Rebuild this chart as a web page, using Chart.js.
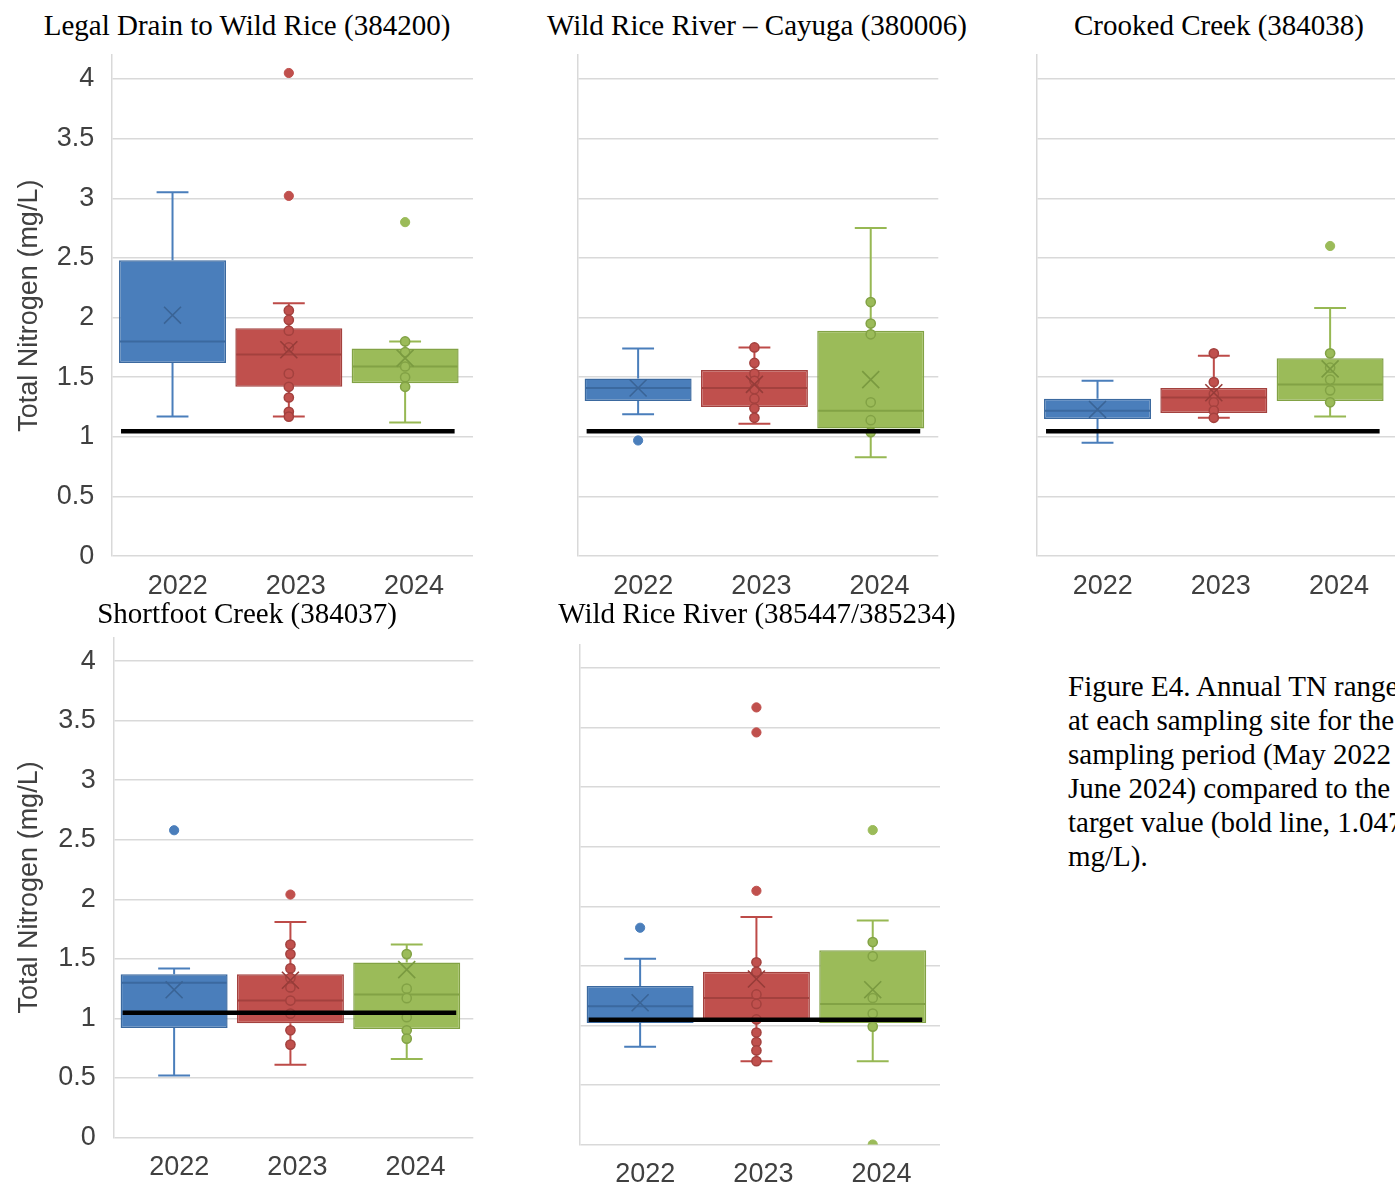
<!DOCTYPE html>
<html>
<head>
<meta charset="utf-8">
<title>Total Nitrogen by site and year</title>
<script src="https://cdn.jsdelivr.net/npm/chart.js@4.4.1/dist/chart.umd.min.js"></script>
<style>
  html, body { margin: 0; padding: 0; background: #ffffff; }
  body { width: 1395px; height: 1193px; overflow: hidden; position: relative; }
  canvas { position: absolute; }
  .site-title {
    position: absolute;
    font-family: "Liberation Serif", "Times New Roman", serif;
    font-size: 29px;
    line-height: 1;
    color: #000;
    white-space: nowrap;
    transform: translate(-50%, -50%);
  }
  .caption {
    position: absolute;
    left: 1068px;
    top: 669px;
    font-family: "Liberation Serif", "Times New Roman", serif;
    font-size: 29px;
    line-height: 34px;
    color: #000;
    white-space: nowrap;
  }
</style>
</head>
<body>
<div class="caption">Figure E4. Annual TN ranges<br>at each sampling site for the<br>sampling period (May 2022 –<br>June 2024) compared to the<br>target value (bold line, 1.047<br>mg/L).</div>
<script>
// ---- data -------------------------------------------------------------
const years = ['2022', '2023', '2024'];
const siteNames = [
  'Legal Drain to Wild Rice (384200)',
  'Wild Rice River – Cayuga (380006)',
  'Crooked Creek (384038)',
  'Shortfoot Creek (384037)',
  'Wild Rice River (385447/385234)'
];
const yAxisTitle = 'Total Nitrogen (mg/L)';
const yTicks = [0, 0.5, 1, 1.5, 2, 2.5, 3, 3.5, 4];
const targetTN = 1.047;   // mg/L

// box statistics: one row per site, one value per year
const whiskerLow = [
  [1.17, 1.17, 1.12],
  [1.19, 1.11, 0.83],
  [0.95, 1.16, 1.17],
  [0.52, 0.61, 0.66],
  [0.82, 0.70, 0.70]
];
const quartile1 = [
  [1.62, 1.42, 1.45],
  [1.30, 1.25, 1.07],
  [1.15, 1.20, 1.30],
  [0.92, 0.96, 0.91],
  [1.02, 1.04, 1.02]
];
const medians = [
  [1.80, 1.69, 1.59],
  [1.41, 1.41, 1.22],
  [1.22, 1.33, 1.44],
  [1.30, 1.15, 1.20],
  [1.16, 1.23, 1.18]
];
const quartile3 = [
  [2.48, 1.91, 1.74],
  [1.49, 1.56, 1.89],
  [1.32, 1.41, 1.66],
  [1.37, 1.37, 1.47],
  [1.33, 1.45, 1.63]
];
const whiskerHigh = [
  [3.05, 2.12, 1.80],
  [1.74, 1.75, 2.75],
  [1.47, 1.68, 2.08],
  [1.42, 1.81, 1.62],
  [1.56, 1.91, 1.88]
];
const means = [
  [2.02, 1.73, 1.66],
  [1.41, 1.44, 1.48],
  [1.23, 1.37, 1.57],
  [1.24, 1.32, 1.41],
  [1.19, 1.39, 1.30]
];
// individual samples shown inside the whisker range
const innerPoints = [
  [[], [2.06, 1.98, 1.89, 1.75, 1.53, 1.42, 1.33, 1.21, 1.17], [1.80, 1.71, 1.59, 1.50, 1.42]],
  [[], [1.75, 1.62, 1.53, 1.47, 1.40, 1.32, 1.24, 1.16], [2.13, 1.95, 1.86, 1.29, 1.14, 1.04]],
  [[], [1.70, 1.46, 1.36, 1.29, 1.22, 1.16], [1.70, 1.58, 1.48, 1.39, 1.29]],
  [[], [1.62, 1.54, 1.42, 1.34, 1.26, 1.15, 1.04, 0.90, 0.78], [1.54, 1.25, 1.17, 1.01, 0.90, 0.83]],
  [[], [1.53, 1.45, 1.26, 1.18, 1.05, 0.94, 0.86, 0.79, 0.70], [1.70, 1.58, 1.23, 1.10, 0.99]]
];
const outliers = [
  [[], [4.05, 3.02], [2.80]],
  [[0.97], [], []],
  [[], [], [2.60]],
  [[2.58], [2.04], []],
  [[1.82], [3.67, 3.46, 2.13], [2.64, 0.00]]
];

// ---- styling ----------------------------------------------------------
const boxFill  = ['#4a7ebb', '#c0504d', '#9bbb59'];
const boxEdge  = ['#3b699f', '#a3413e', '#82a245'];
const whiskCol = ['#4a7ebb', '#bd4b48', '#97b853'];
const meanCol  = ['#3a6496', '#963c39', '#7a9a40'];
const sansFont = '"Liberation Sans", Arial, sans-serif';
const labelCol = '#404040';
const gridCol  = '#d9d9d9';
const unitPx   = 116.3;   // pixels between neighbouring years
const xStart   = 0.477;   // left edge of the plot in year-index units
const labelNudge = [0.045, 0.06, 0.076];  // year labels sit slightly right of their boxes

// canvas rectangle [left, top, width, height] and plot rectangle [left, top, right, bottom]
const panelLayout = [
  { canvas: [0, 40, 480, 560],    plot: [111.7, 55.1, 473.0, 556.2],  labels: true,  title: [247, 25] },
  { canvas: [560, 40, 400, 560],  plot: [577.3, 55.1, 938.3, 556.2],  labels: false, title: [757, 25] },
  { canvas: [1000, 40, 400, 560], plot: [1036.7, 55.1, 1398.0, 556.2], labels: false, title: [1219, 25] },
  { canvas: [0, 620, 480, 573],   plot: [113.3, 637.3, 473.3, 1137.5], labels: true,  title: [247, 613] },
  { canvas: [560, 620, 400, 573], plot: [579.3, 644.3, 940.0, 1144.5], labels: false, title: [757, 613] }
];

// whiskers, caps, medians and the target line drawn through the chart scales
const boxOverlay = {
  id: 'boxOverlay',
  afterDatasetDraw(chart, args, opts) {
    if (args.meta.type !== 'bar') return;
    const s = opts.site;
    const { ctx } = chart;
    const x = chart.scales.x, y = chart.scales.y;
    ctx.save();
    ctx.lineCap = 'butt';
    args.meta.data.forEach((bar, i) => {
      const { x: bx, width: bw } = bar.getProps(['x', 'width'], true);
      const capHalf = x.getPixelForValue(i + 1 + 0.137) - x.getPixelForValue(i + 1);
      ctx.strokeStyle = whiskCol[i];
      ctx.lineWidth = 2;
      const yq1 = y.getPixelForValue(quartile1[s][i]);
      const yq3 = y.getPixelForValue(quartile3[s][i]);
      const ylo = y.getPixelForValue(whiskerLow[s][i]);
      const yhi = y.getPixelForValue(whiskerHigh[s][i]);
      ctx.beginPath();
      ctx.moveTo(bx, yq3); ctx.lineTo(bx, yhi);
      ctx.moveTo(bx - capHalf, yhi); ctx.lineTo(bx + capHalf, yhi);
      ctx.moveTo(bx, yq1); ctx.lineTo(bx, ylo);
      ctx.moveTo(bx - capHalf, ylo); ctx.lineTo(bx + capHalf, ylo);
      ctx.stroke();
      const ym = y.getPixelForValue(medians[s][i]);
      ctx.strokeStyle = boxEdge[i];
      ctx.lineWidth = 2;
      ctx.beginPath();
      ctx.moveTo(bx - bw / 2 + 1, ym); ctx.lineTo(bx + bw / 2 - 1, ym);
      ctx.stroke();
    });
    ctx.restore();
  },
  afterDatasetsDraw(chart) {
    const meta = chart.getSortedVisibleDatasetMetas().find(m => m.type === 'bar');
    if (!meta) return;
    const first = meta.data[0].getProps(['x', 'width'], true);
    const last = meta.data[meta.data.length - 1].getProps(['x', 'width'], true);
    const yt = chart.scales.y.getPixelForValue(targetTN);
    const { ctx } = chart;
    ctx.save();
    ctx.strokeStyle = '#000000';
    ctx.lineWidth = 4.5;
    ctx.beginPath();
    ctx.moveTo(first.x - first.width / 2 + 2, yt);
    ctx.lineTo(last.x + last.width / 2 - 4, yt);
    ctx.stroke();
    ctx.restore();
  }
};

function buildPanel(s) {
  const L = panelLayout[s];
  const [cx, cy, cw, ch] = L.canvas;
  const [pl, pt, pr, pb] = L.plot;

  const title = document.createElement('div');
  title.className = 'site-title';
  title.textContent = siteNames[s];
  title.style.left = L.title[0] + 'px';
  title.style.top = L.title[1] + 'px';
  document.body.appendChild(title);

  const canvas = document.createElement('canvas');
  canvas.width = cw; canvas.height = ch;
  canvas.style.left = cx + 'px'; canvas.style.top = cy + 'px';
  canvas.style.width = cw + 'px'; canvas.style.height = ch + 'px';
  document.body.appendChild(canvas);

  const datasets = [];
  datasets.push({
    type: 'line', label: 'mean', showLine: false, order: 0,
    data: years.map((_, i) => ({ x: i + 1, y: means[s][i] })),
    pointStyle: 'crossRot', pointRadius: 12,
    pointBorderColor: meanCol, pointBorderWidth: 1.6, pointBackgroundColor: 'rgba(0,0,0,0)'
  });
  years.forEach((yr, i) => {
    datasets.push({
      type: 'line', label: yr + ' samples', showLine: false, order: 1,
      data: innerPoints[s][i].map(v => ({ x: i + 1, y: v })),
      pointStyle: 'circle', pointRadius: 4.6,
      pointBackgroundColor: boxFill[i], pointBorderColor: boxEdge[i], pointBorderWidth: 1.5
    });
    datasets.push({
      type: 'line', label: yr + ' outliers', showLine: false, order: 1,
      data: outliers[s][i].map(v => ({ x: i + 1, y: v })),
      pointStyle: 'circle', pointRadius: 4.6,
      pointBackgroundColor: boxFill[i], pointBorderColor: boxFill[i], pointBorderWidth: 1
    });
  });
  datasets.push({
    type: 'bar', label: 'interquartile range', order: 5,
    data: years.map((_, i) => ({ x: i + 1, y: [quartile1[s][i], quartile3[s][i]] })),
    backgroundColor: boxFill, borderColor: boxEdge, borderWidth: 1.5, borderSkipped: false,
    barPercentage: 0.92, categoryPercentage: 1
  });

  new Chart(canvas, {
    type: 'bar',
    data: { datasets },
    plugins: [boxOverlay],
    options: {
      responsive: false,
      animation: false,
      devicePixelRatio: 1,
      layout: { autoPadding: false, padding: { left: 0, top: pt - cy, right: cx + cw - pr, bottom: 0 } },
      plugins: {
        legend: { display: false },
        tooltip: { enabled: false },
        boxOverlay: { site: s }
      },
      scales: {
        x: {
          type: 'linear', offset: false,
          min: xStart, max: xStart + (pr - pl) / unitPx,
          afterBuildTicks: sc => { sc.ticks = years.map((_, i) => ({ value: i + 1 + labelNudge[i] })); },
          afterFit: sc => {
            sc.height = cy + ch - pb;
            sc.paddingLeft = 0; sc.paddingRight = 0;
          },
          grid: { display: false, drawTicks: false },
          border: { display: false },
          ticks: {
            callback: (v, idx) => years[idx],
            autoSkip: false, maxRotation: 0, padding: 14,
            color: labelCol, font: { family: sansFont, size: 27 }
          }
        },
        y: {
          type: 'linear', min: 0, max: 4.2,
          afterBuildTicks: sc => { sc.ticks = yTicks.map(v => ({ value: v })); },
          afterFit: sc => {
            sc.width = pl - cx;
            sc.paddingTop = 0; sc.paddingBottom = 0;
          },
          grid: { color: gridCol, lineWidth: 1.5, drawTicks: false },
          border: { display: true, color: gridCol, width: 1.5 },
          ticks: {
            display: L.labels, padding: 17.5,
            callback: v => String(v),
            color: labelCol, font: { family: sansFont, size: 27 }
          },
          title: {
            display: L.labels, text: yAxisTitle,
            color: labelCol, font: { family: sansFont, size: 27 },
            padding: { top: 13, bottom: 0 }
          }
        }
      }
    }
  });
}

siteNames.forEach((_, s) => buildPanel(s));
</script>
</body>
</html>
